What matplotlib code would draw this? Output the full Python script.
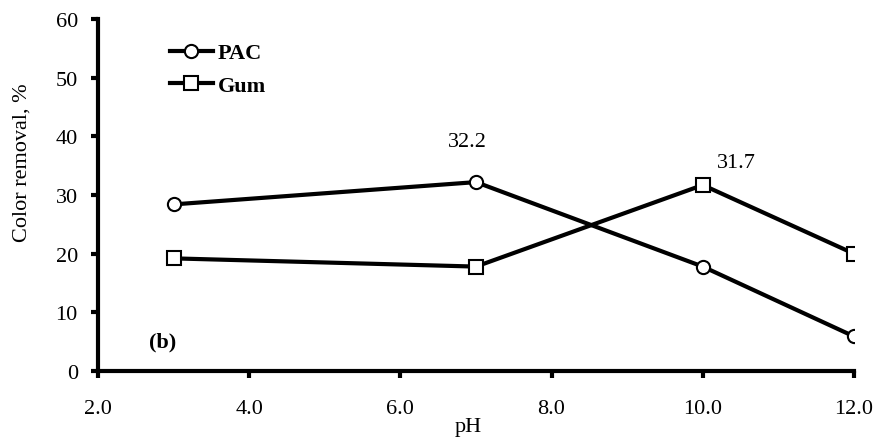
import matplotlib
matplotlib.use("Agg")
import matplotlib.pyplot as plt

plt.rcParams["font.family"] = ["Liberation Serif", "DejaVu Serif"]

ph = [3.0, 7.0, 10.0, 12.0]
pac = [28.4, 32.2, 17.8, 5.9]
gum = [19.2, 17.8, 31.7, 20.0]
x_ticks = [2.0, 4.0, 6.0, 8.0, 10.0, 12.0]
y_ticks = [0, 10, 20, 30, 40, 50, 60]

fig = plt.figure(figsize=(8.78, 4.39), dpi=100)
ax = fig.add_axes([0.1116, 0.1526, 0.861, 0.8018])

ax.plot(ph, pac, color="black", lw=3, marker="o", ms=9.5, mfc="white", mec="black", mew=1.5, label="PAC")
ax.plot(ph, gum, color="black", lw=3, marker="s", ms=9.5, mfc="white", mec="black", mew=1.5, label="Gum")

ax.annotate("32.2", (ph[1], pac[1]), xytext=(-6, 29), textcoords="offset points",
            ha="center", va="center", fontsize=16)
ax.annotate("31.7", (ph[2], gum[2]), xytext=(24, 16.5), textcoords="offset points",
            ha="center", va="center", fontsize=16)
ax.text(2.86, 5.1, "(b)", fontsize=16, fontweight="bold", ha="center", va="center")

ax.set_xlim(2, 12)
ax.set_ylim(0, 60)
ax.set_xticks(x_ticks)
ax.set_xticklabels([f"{v:.1f}" for v in x_ticks])
ax.set_yticks(y_ticks)
ax.tick_params(labelsize=16, width=3, length=5)
ax.tick_params(axis="x", pad=15.5)
ax.tick_params(axis="y", pad=9.5)
for s in ["top", "right"]:
    ax.spines[s].set_visible(False)
for s in ["left", "bottom"]:
    ax.spines[s].set_linewidth(3)

ax.set_xlabel("pH", fontsize=16)
ax.xaxis.set_label_coords(0.49, -0.158)
ax.xaxis.label.set_verticalalignment("center")
ax.set_ylabel("Color removal, %", fontsize=16)
ax.yaxis.set_label_coords(-0.1, 0.594)
ax.yaxis.label.set_verticalalignment("center")

ax.legend(loc="upper left", bbox_to_anchor=(0.0685, 0.989), frameon=False,
          prop={"weight": "bold", "size": 16}, handlelength=1.95, handletextpad=0.2,
          labelspacing=0.55)

fig.savefig("out.png", dpi=100)
